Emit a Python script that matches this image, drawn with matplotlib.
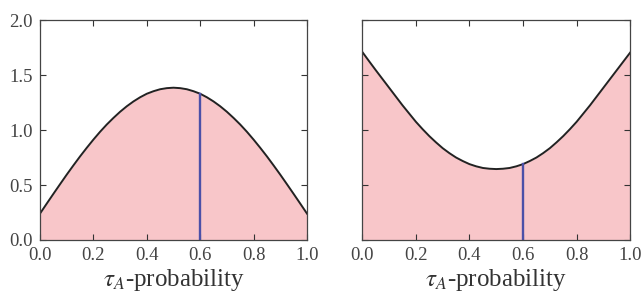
import matplotlib
matplotlib.use("Agg")
import matplotlib.pyplot as plt
import numpy as np

plt.rcParams["font.family"] = ["Liberation Serif", "DejaVu Serif"]
plt.rcParams["mathtext.fontset"] = "stix"

# tau_A probability grid (step 0.025) and the two curves
P = [0.000, 0.025, 0.050, 0.075, 0.100, 0.125, 0.150, 0.175, 0.200, 0.225,
     0.250, 0.275, 0.300, 0.325, 0.350, 0.375, 0.400, 0.425, 0.450, 0.475,
     0.500,
     0.525, 0.550, 0.575, 0.600, 0.625, 0.650, 0.675, 0.700, 0.725, 0.750,
     0.775, 0.800, 0.825, 0.850, 0.875, 0.900, 0.925, 0.950, 0.975, 1.000]
LEFT = [0.240, 0.330, 0.419, 0.507, 0.594, 0.678, 0.760, 0.838, 0.913, 0.984,
        1.050, 1.110, 1.166, 1.216, 1.260, 1.298, 1.330, 1.353, 1.371, 1.381,
        1.385,
        1.381, 1.371, 1.353, 1.330, 1.298, 1.260, 1.216, 1.166, 1.110, 1.050,
        0.984, 0.913, 0.838, 0.760, 0.678, 0.594, 0.507, 0.419, 0.330, 0.240]
RIGHT = [1.710, 1.627, 1.545, 1.465, 1.385, 1.305, 1.225, 1.150, 1.075, 1.008,
         0.945, 0.888, 0.835, 0.790, 0.750, 0.718, 0.690, 0.670, 0.655, 0.648,
         0.645,
         0.648, 0.655, 0.670, 0.690, 0.718, 0.750, 0.790, 0.835, 0.888, 0.945,
         1.008, 1.075, 1.150, 1.225, 1.305, 1.385, 1.465, 1.545, 1.625, 1.705]
MARK = 0.6
XTICKS = [0.0, 0.2, 0.4, 0.6, 0.8, 1.0]
YTICKS = [0.0, 0.5, 1.0, 1.5, 2.0]

FILL = "#f8c6c9"
BLUE = "#4b50a8"

fig = plt.figure(figsize=(6.44, 2.94), dpi=100)
ax1 = fig.add_axes([0.0621, 0.1837, 0.4146, 0.748])
ax2 = fig.add_axes([0.5626, 0.1837, 0.4160, 0.748])

for ax, y in [(ax1, LEFT), (ax2, RIGHT)]:
    ax.fill_between(P, 0, y, color=FILL, lw=0)
    ax.plot(P, y, color="#222222", lw=1.4)
    ax.plot([MARK, MARK], [0, np.interp(MARK, P, y)], color=BLUE, lw=1.7)
    ax.set_xlim(0, 1)
    ax.set_ylim(0, 2)
    ax.set_xticks(XTICKS)
    ax.set_xticklabels([f"{t:.1f}" for t in XTICKS])
    ax.set_yticks(YTICKS)
    ax.tick_params(direction="in", top=True, right=True, length=4, width=0.8,
                   labelsize=13.5, colors="#333333", labelcolor="#444444")
    ax.tick_params(axis="x", pad=5)
    ax.tick_params(axis="y", pad=5)
    for s in ax.spines.values():
        s.set_color("#444444")
        s.set_linewidth(0.9)
    ax.set_xlabel(r"$\tau_A$-probability", fontsize=18, labelpad=2, color="#333333")

ax1.set_yticklabels([f"{t:.1f}" for t in YTICKS])
ax2.set_yticklabels([])

fig.savefig("out.png", dpi=100)
